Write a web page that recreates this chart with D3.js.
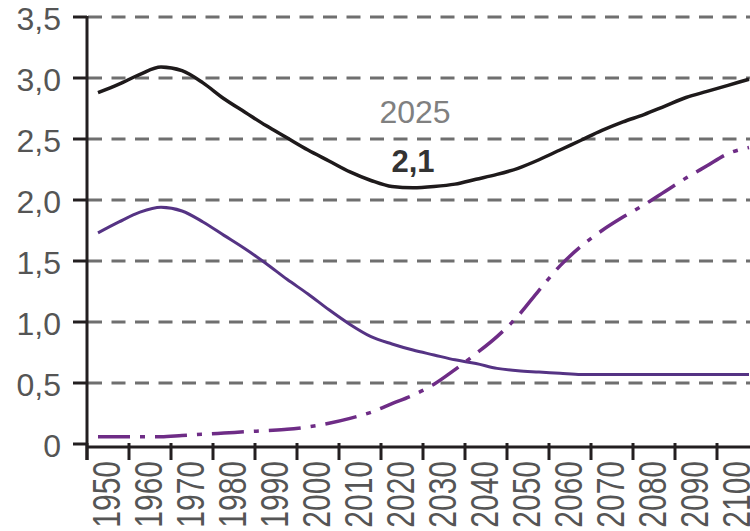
<!DOCTYPE html>
<html>
<head>
<meta charset="utf-8">
<script src="https://cdn.jsdelivr.net/npm/d3@7"></script>
<style>
  html, body { margin: 0; padding: 0; background: #fff; }
  svg { display: block; }
</style>
</head>
<body>
<svg id="chart" width="750" height="531"></svg>
<script>
const WIDTH = 750;
const HEIGHT = 531;

// data, 5 year steps
const years = [1950, 1955, 1960, 1965, 1970, 1975, 1980, 1985, 1990, 1995, 2000, 2005,
  2010, 2015, 2020, 2025, 2030, 2035, 2040, 2045, 2050, 2055, 2060, 2065, 2070, 2075,
  2080, 2085, 2090, 2095, 2100, 2105];
const totalSeries = [2.88, 2.95, 3.03, 3.09, 3.06, 2.96, 2.83, 2.72, 2.61, 2.51, 2.41, 2.32,
  2.23, 2.16, 2.11, 2.10, 2.11, 2.13, 2.17, 2.21, 2.26, 2.33, 2.41, 2.49, 2.57, 2.64,
  2.70, 2.77, 2.84, 2.89, 2.94, 2.99];
const youngSeries = [1.73, 1.82, 1.90, 1.94, 1.91, 1.82, 1.71, 1.60, 1.48, 1.35, 1.23, 1.10,
  0.98, 0.88, 0.82, 0.77, 0.73, 0.69, 0.66, 0.62, 0.60, 0.59, 0.58, 0.57, 0.57, 0.57,
  0.57, 0.57, 0.57, 0.57, 0.57, 0.57];
const oldSeries = [0.06, 0.06, 0.06, 0.06, 0.07, 0.08, 0.09, 0.10, 0.11, 0.12, 0.14, 0.17,
  0.21, 0.26, 0.33, 0.40, 0.49, 0.61, 0.74, 0.88, 1.05, 1.26, 1.46, 1.62, 1.75, 1.86,
  1.96, 2.07, 2.18, 2.28, 2.38, 2.43];

const tickYears = [1950, 1960, 1970, 1980, 1990, 2000, 2010, 2020, 2030, 2040, 2050,
  2060, 2070, 2080, 2090, 2100];
const yTicks = [0, 0.5, 1.0, 1.5, 2.0, 2.5, 3.0, 3.5];
const yTickLabels = ['0', '0,5', '1,0', '1,5', '2,0', '2,5', '3,0', '3,5'];
const noteYear = 2025;
const noteValue = 2.1;
const noteLabels = ['2025', '2,1'];

const FONT = '"Liberation Sans", Arial, sans-serif';

const x = d3.scaleLinear().domain([1950, 2100]).range([98, 728]);
const y = d3.scaleLinear().domain([0, 3.5]).range([444, 17]);

const svg = d3.select('#chart');

// horizontal dashed grid
svg.append('g')
  .selectAll('line')
  .data(yTicks.filter(d => d > 0))
  .join('line')
  .attr('x1', x(1950) - 10)
  .attr('x2', WIDTH)
  .attr('y1', d => y(d))
  .attr('y2', d => y(d))
  .attr('stroke', '#6f6f6f')
  .attr('stroke-width', 3)
  .attr('stroke-dasharray', '14,9.5');

// series lines
const line = d3.line()
  .x((d, i) => x(years[i]))
  .y(d => y(d))
  .curve(d3.curveMonotoneX);

const lines = svg.append('g').attr('fill', 'none');

lines.append('path')
  .attr('d', line(youngSeries))
  .attr('stroke', '#553384')
  .attr('stroke-width', 3);

lines.append('path')
  .attr('d', line(oldSeries))
  .attr('stroke', '#6e2c86')
  .attr('stroke-width', 3.5)
  .attr('stroke-dasharray', '32,10,5,10');

lines.append('path')
  .attr('d', line(totalSeries))
  .attr('stroke', '#1e1a1b')
  .attr('stroke-width', 3.5);

// axes
const axis = svg.append('g').attr('stroke', '#231f20').attr('stroke-width', 3);
const x0 = x(1950) - 11;

axis.append('line')
  .attr('x1', x0).attr('x2', x0)
  .attr('y1', y(3.5) - 1).attr('y2', y(0) + 16);

axis.append('line')
  .attr('x1', x0).attr('x2', WIDTH)
  .attr('y1', y(0) + 3).attr('y2', y(0) + 3);

axis.selectAll('.ytick')
  .data(yTicks)
  .join('line')
  .attr('class', 'ytick')
  .attr('x1', x0 - 14).attr('x2', x0)
  .attr('y1', d => y(d)).attr('y2', d => y(d));

axis.selectAll('.xtick')
  .data(tickYears)
  .join('line')
  .attr('class', 'xtick')
  .attr('x1', d => x(d) - 11).attr('x2', d => x(d) - 11)
  .attr('y1', y(0) - 1).attr('y2', y(0) + 16);

// y tick labels
svg.append('g')
  .attr('font-family', FONT)
  .attr('font-size', 32)
  .attr('fill', '#555')
  .attr('text-anchor', 'end')
  .selectAll('text')
  .data(yTicks)
  .join('text')
  .attr('x', x0 - 26)
  .attr('y', d => y(d) + 13)
  .text((d, i) => yTickLabels[i]);

// x tick labels, rotated
svg.append('g')
  .attr('font-family', FONT)
  .attr('font-size', 30)
  .attr('fill', '#555')
  .attr('text-anchor', 'end')
  .selectAll('text')
  .data(tickYears)
  .join('text')
  .attr('transform', d => `translate(${x(d) + 22},${y(0) + 17}) scale(1.3,1) rotate(-90)`)
  .text(d => d);

// note at the minimum
svg.append('text')
  .attr('x', x(noteYear) + 2)
  .attr('y', y(noteValue) - 65)
  .attr('font-family', FONT)
  .attr('font-size', 32)
  .attr('fill', '#808080')
  .attr('text-anchor', 'middle')
  .text(noteLabels[0]);

svg.append('text')
  .attr('x', x(noteYear))
  .attr('y', y(noteValue) - 16)
  .attr('font-family', FONT)
  .attr('font-size', 31)
  .attr('font-weight', 'bold')
  .attr('fill', '#333')
  .attr('text-anchor', 'middle')
  .text(noteLabels[1]);
</script>
</body>
</html>
